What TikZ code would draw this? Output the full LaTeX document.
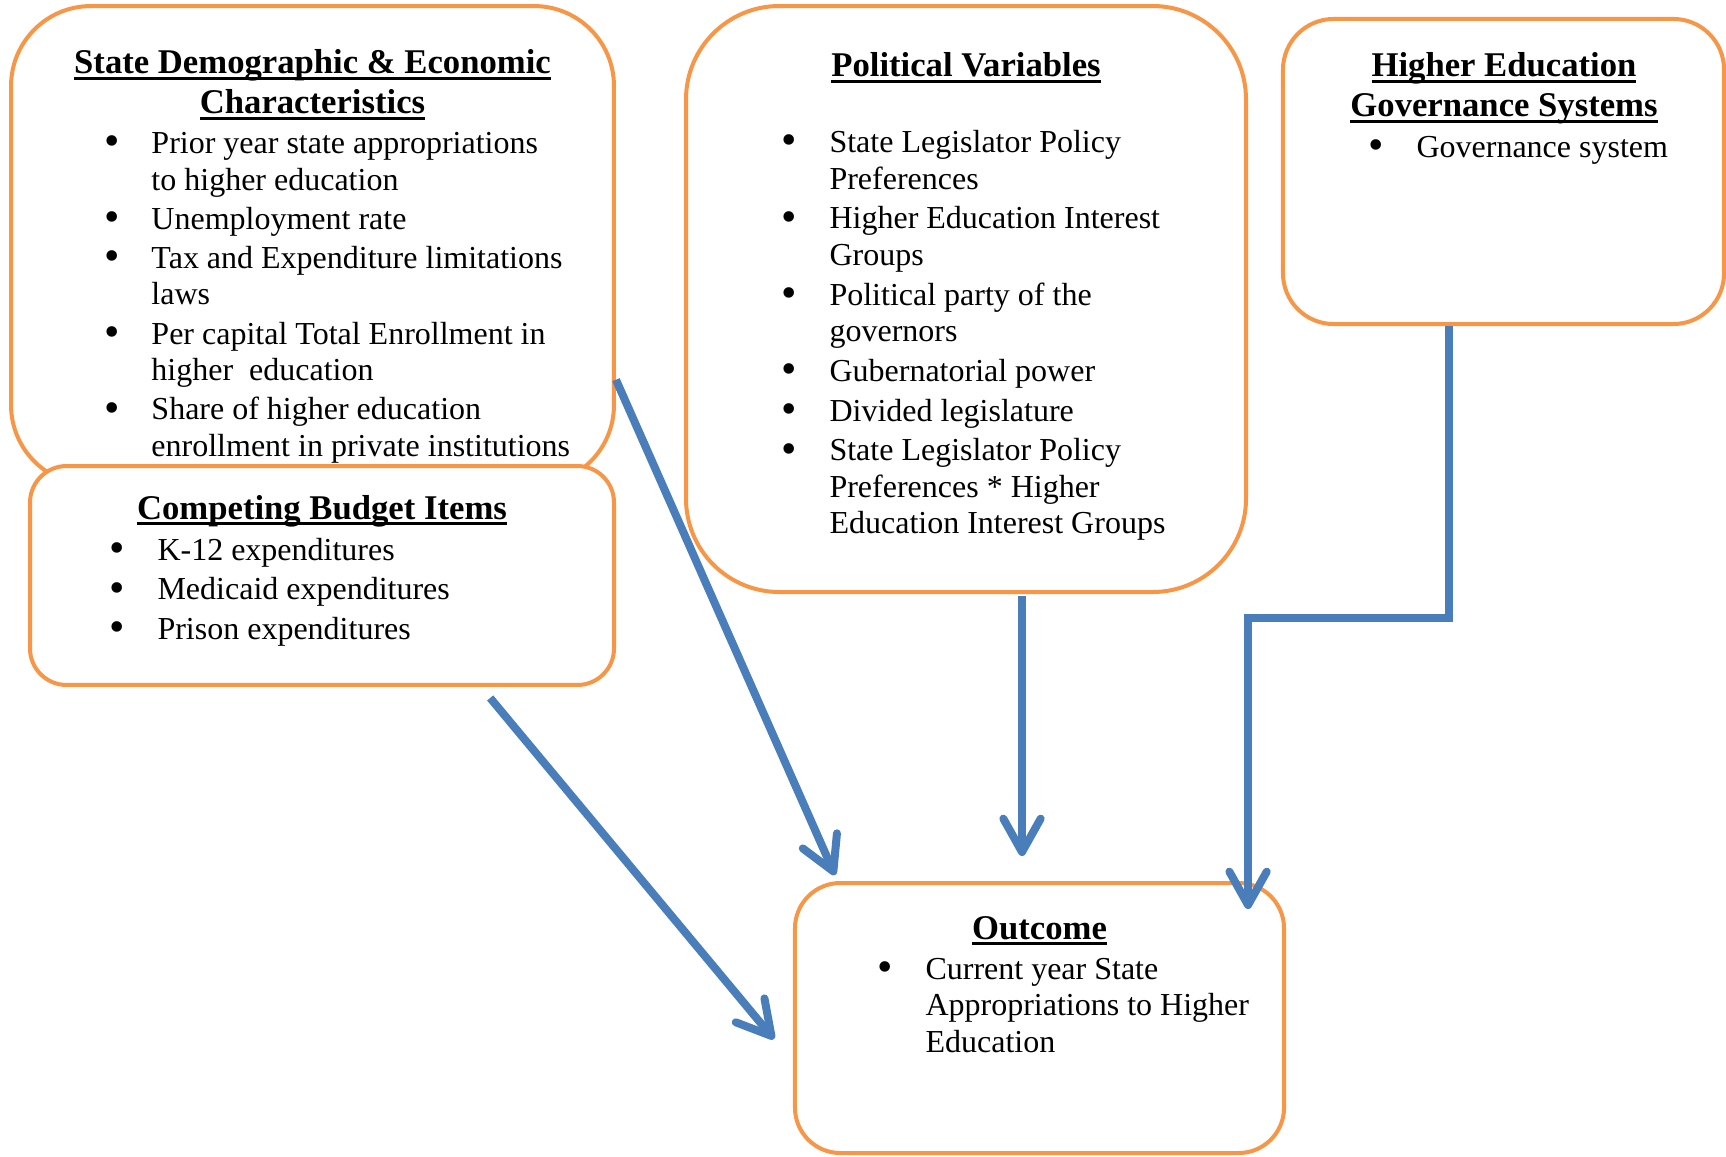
\documentclass[tikz,border=0pt]{standalone}
\usepackage{fontspec}
\setmainfont{Liberation Serif}
\usepackage{xcolor}
\usepackage{tikz}
\usetikzlibrary{arrows.meta, positioning, calc}

\definecolor{boxorange}{HTML}{F79646}
\definecolor{arrowblue}{HTML}{4A7EBB}

\newcommand{\ulhead}[1]{\sbox0{#1}\rlap{\rule[-2.4pt]{\wd0}{1.1pt}}\usebox0}
\newcommand{\headfont}{\fontsize{13}{14.9}\selectfont\bfseries}
\newcommand{\listfont}{\fontsize{12}{13.7}\selectfont}
\newcommand{\bul}{\smash{\raisebox{-0.9pt}{\fontsize{16.5}{13.7}\selectfont\textbullet}}}

\begin{document}
\begin{tikzpicture}[
  x=0.375pt, y=-0.375pt,
  box/.style={draw=boxorange, line width=1.5pt, fill=white},
  head/.style={anchor=base, inner sep=0pt, font=\headfont},
  items/.style={anchor=base west, inner sep=0pt, font=\listfont},
  arr/.style={draw=arrowblue, line width=3pt, -{Straight Barb[length=12.5pt, width=14pt, round]}},
]
\useasboundingbox (0,0) rectangle (1726,1156);

% boxes
\node[box, minimum width=226.1pt, minimum height=179.6pt, rounded corners=30pt] (demo) at (312.5,245.5) {};
\node[box, minimum width=219pt, minimum height=82.1pt, rounded corners=13.7pt] (budget) at (322,575.5) {};
\node[box, minimum width=210pt, minimum height=219.75pt, rounded corners=35pt] (politics) at (966,299) {};
\node[box, minimum width=165.4pt, minimum height=114.4pt, rounded corners=19pt] (governance) at (1503.5,171.5) {};
\node[box, minimum width=183.4pt, minimum height=101.25pt, rounded corners=17pt] (outcome) at (1039.5,1018) {};

% titles
\node[head] (demo-title) at (312.5,73.5) {\begin{tabular}[t]{@{}c@{}}\ulhead{State Demographic \& Economic}\\ \ulhead{Characteristics}\end{tabular}};
\node[head] (budget-title) at (322,519) {\ulhead{Competing Budget Items}};
\node[head] (politics-title) at (966,77) {\ulhead{Political Variables}};
\node[head] (governance-title) at (1504,77) {\begin{tabular}[t]{@{}c@{}}\ulhead{Higher Education}\\ \ulhead{Governance Systems}\end{tabular}};
\node[head] (outcome-title) at (1039.5,939) {\ulhead{Outcome}};

% lists
\node[items] (demo-list) at (104,153.5) {\begin{tabular}[t]{@{}p{17.6pt}@{}l@{}}
\bul & Prior year state appropriations\\
 & to higher education\\[1pt]
\bul & Unemployment rate\\[1pt]
\bul & Tax and Expenditure limitations\\
 & laws\\[1pt]
\bul & Per capital Total Enrollment in\\
 & higher\ \ education\\[1pt]
\bul & Share of higher education\\
 & enrollment in private institutions
\end{tabular}};
\node[items] (budget-list) at (109,560) {\begin{tabular}[t]{@{}p{18pt}@{}l@{}}
\bul & K-12 expenditures\\[1.2pt]
\bul & Medicaid expenditures\\[1.2pt]
\bul & Prison expenditures
\end{tabular}};
\node[items] (politics-list) at (781,152.5) {\begin{tabular}[t]{@{}p{18pt}@{}l@{}}
\bul & State Legislator Policy\\
 & Preferences\\[1.2pt]
\bul & Higher Education Interest\\
 & Groups\\[1.2pt]
\bul & Political party of the\\
 & governors\\[1.2pt]
\bul & Gubernatorial power\\[1.2pt]
\bul & Divided legislature\\[1.2pt]
\bul & State Legislator Policy\\
 & Preferences * Higher\\
 & Education Interest Groups
\end{tabular}};
\node[items] (governance-list) at (1368,157) {\begin{tabular}[t]{@{}p{18pt}@{}l@{}}
\bul & Governance system
\end{tabular}};
\node[items] (outcome-list) at (877,979) {\begin{tabular}[t]{@{}p{18pt}@{}l@{}}
\bul & Current year State\\
 & Appropriations to Higher\\
 & Education
\end{tabular}};

% arrows
\draw[arr] ($(demo.north east)!0.778!(demo.south east)$) -- ($(outcome.north west)+(42,-6)$);
\draw[arr] ($(budget.south west)!0.786!(budget.south east)+(0,11)$) -- ($(outcome.west)+(-19,21)$);
\draw[arr] ($(politics.south)+(56,2)$) -- ($(outcome.north)+(-17.5,-25)$);
\draw[arr] ($(governance.south west)!0.378!(governance.south east)$) |- ($(outcome.north east)+(-38,-263)$) -- ($(outcome.north east)+(-38,28)$);
\end{tikzpicture}
\end{document}
